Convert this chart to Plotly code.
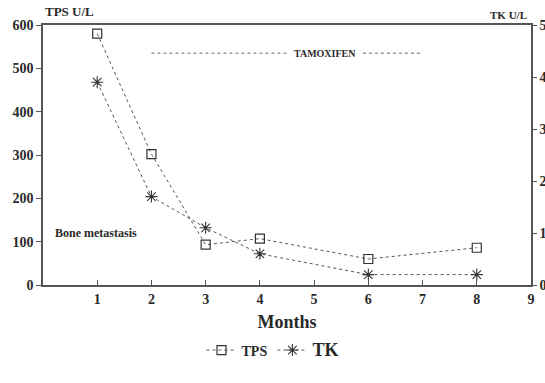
import plotly.graph_objects as go

months = [1, 2, 3, 4, 6, 8]
tps = [580, 302, 93, 107, 60, 86]
tk = [3.9, 1.7, 1.1, 0.6, 0.2, 0.2]
x_ticks = [1, 2, 3, 4, 5, 6, 7, 8, 9]
y_left_ticks = [0, 100, 200, 300, 400, 500, 600]
y_right_ticks = [0, 1, 2, 3, 4, 5]

FONT = "Liberation Serif"
C = "#2a2a2a"
TF = dict(family=FONT, size=14, color=C)

def bold(vals):
    return ["<b>%s</b>" % v for v in vals]

fig = go.Figure()
fig.add_trace(go.Scatter(
    x=months, y=tps, name="<b>TPS</b>", mode="lines+markers",
    line=dict(color="#555555", width=1, dash="dot"),
    marker=dict(symbol="square-open", size=9, color="#333333", line=dict(width=1.2)),
))
fig.add_trace(go.Scatter(
    x=months, y=tk, name="<b><span style='font-size:18px'>TK</span></b>", mode="lines+markers", yaxis="y2",
    line=dict(color="#555555", width=1, dash="dot"),
    marker=dict(symbol="asterisk-open", size=10, color="#333333", line=dict(width=1.1, color="#333333")),
))

# Tamoxifen period annotation
fig.add_shape(type="line", x0=2.0, x1=4.5, y0=535, y1=535, xref="x", yref="y",
              line=dict(color="#666666", width=1, dash="dot"))
fig.add_shape(type="line", x0=5.9, x1=7.0, y0=535, y1=535, xref="x", yref="y",
              line=dict(color="#666666", width=1, dash="dot"))
fig.add_annotation(x=5.2, y=535, xref="x", yref="y", text="<b>TAMOXIFEN</b>",
                   showarrow=False, font=dict(family=FONT, size=10, color=C))
fig.add_annotation(x=0.18, y=120, xref="x", yref="y", text="<b>Bone metastasis</b>",
                   showarrow=False, xanchor="left", font=dict(family=FONT, size=12, color=C))

fig.add_annotation(x=0, y=1.0, xref="paper", yref="paper", text="<b>TPS U/L</b>",
                   showarrow=False, xanchor="left", yanchor="bottom", yshift=4,
                   font=dict(family=FONT, size=13, color=C))
fig.add_annotation(x=0.996, y=1.0, xref="paper", yref="paper", text="<b>TK U/L</b>",
                   showarrow=False, xanchor="right", yanchor="bottom", yshift=2,
                   font=dict(family=FONT, size=11, color=C))

fig.update_layout(
    width=545, height=383,
    margin=dict(l=43, r=14, t=25, b=98, autoexpand=False),
    paper_bgcolor="white", plot_bgcolor="white",
    font=dict(family=FONT, color=C),
    showlegend=True,
    legend=dict(orientation="h", x=0.5, xanchor="center", xref="container",
                y=0.085, yanchor="middle", yref="container",
                font=dict(family=FONT, size=14, color=C), itemwidth=30),
    xaxis=dict(range=[0, 9], tickvals=x_ticks, ticktext=bold(x_ticks), ticks="inside", ticklen=5,
               showline=True, linecolor="#555555", linewidth=1.5, mirror=True,
               showgrid=False, zeroline=False, tickcolor="#555555",
               tickfont=TF,
               title=dict(text="<b>Months</b>", font=dict(family=FONT, size=18, color=C), standoff=10),
               automargin=False),
    yaxis=dict(range=[0, 600], tickvals=y_left_ticks, ticktext=bold(y_left_ticks), ticks="outside", ticklen=5,
               showline=True, linecolor="#555555", linewidth=1.5,
               showgrid=False, zeroline=False, tickcolor="#555555",
               tickfont=TF, automargin=False),
    yaxis2=dict(range=[0, 5], tickvals=y_right_ticks, ticktext=bold(y_right_ticks), overlaying="y", side="right",
                ticks="outside", ticklen=4, showline=True, linecolor="#555555", linewidth=1.5,
                showgrid=False, zeroline=False, tickcolor="#555555",
                tickfont=TF, automargin=False),
)

fig.write_html("out.html")
